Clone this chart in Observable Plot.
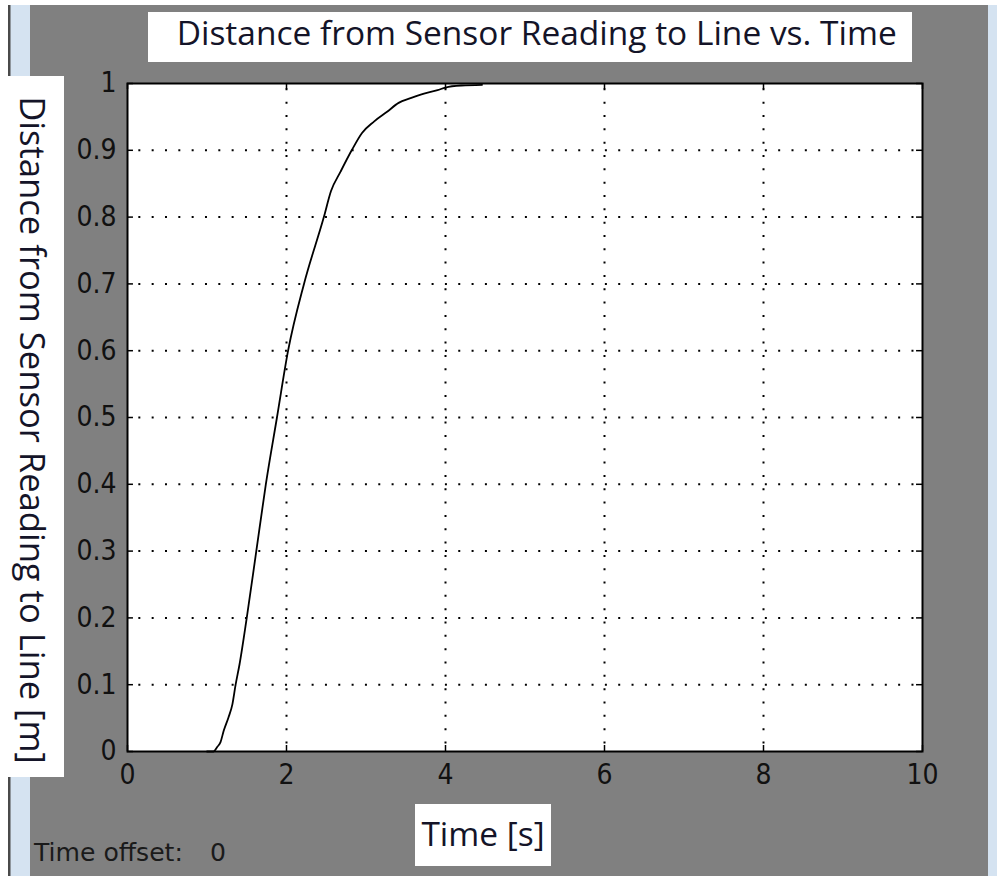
<!DOCTYPE html>
<html>
<head>
<meta charset="utf-8">
<script src="https://cdn.jsdelivr.net/npm/d3@7"></script>
<script src="https://cdn.jsdelivr.net/npm/@observablehq/plot@0.6"></script>
<style>
  html, body { margin: 0; padding: 0; background: #ffffff; }
  #chart { position: absolute; left: 0; top: 0; }
</style>
</head>
<body>
<div id="chart"></div>
<script>
// ---- data ----
const timeS = [1.0, 1.08, 1.13, 1.17, 1.21, 1.27, 1.32, 1.36, 1.41, 1.50, 1.62, 1.74, 1.88, 2.02, 2.22, 2.47, 2.56, 2.68, 2.82, 2.95, 3.10, 3.27, 3.41, 3.56, 3.73, 3.90, 4.00, 4.20, 4.46];
const distM = [0, 0, 0.007, 0.014, 0.031, 0.051, 0.071, 0.10, 0.131, 0.2, 0.3, 0.4, 0.5, 0.6, 0.7, 0.8, 0.839, 0.868, 0.9, 0.926, 0.943, 0.958, 0.971, 0.978, 0.985, 0.99, 0.994, 0.997, 0.998];
const xTicks = [0, 2, 4, 6, 8, 10];
const yTicks = [0, 0.1, 0.2, 0.3, 0.4, 0.5, 0.6, 0.7, 0.8, 0.9, 1];
const xGrid = [2, 4, 6, 8];
const yGrid = [0.1, 0.2, 0.3, 0.4, 0.5, 0.6, 0.7, 0.8, 0.9];
const titleText = "Distance from Sensor Reading to Line vs. Time";
const yLabelText = "Distance from Sensor Reading to Line [m]";
const xLabelText = "Time [s]";
const offsetLabel = "Time offset:";
const offsetValue = "0";

const data = timeS.map((t, i) => ({t, d: distM[i]}));
const tickFont = "'DejaVu Sans Condensed', 'Liberation Sans', Arial, sans-serif";
const dots = "2,11.33";

const svg = Plot.plot({
  width: 997,
  height: 876,
  marginLeft: 127,
  marginRight: 75,
  marginTop: 83,
  marginBottom: 125,
  x: {domain: [0, 10]},
  y: {domain: [0, 1]},
  style: {background: "transparent", overflow: "visible"},
  marks: [
    Plot.frame({fill: "white"}),
    Plot.gridX(xGrid, {stroke: "#000", strokeOpacity: 1, strokeWidth: 2, strokeDasharray: dots, strokeDashoffset: 8}),
    Plot.gridY(yGrid, {stroke: "#000", strokeOpacity: 1, strokeWidth: 2, strokeDasharray: dots, strokeDashoffset: 2}),
    // inward MATLAB-style ticks
    Plot.ruleX(xTicks, {x: d => d, y1: 0, y2: 0.009, stroke: "#000", strokeWidth: 1.5}),
    Plot.ruleX(xTicks, {x: d => d, y1: 0.991, y2: 1, stroke: "#000", strokeWidth: 1.5}),
    Plot.ruleY(yTicks, {y: d => d, x1: 0, x2: 0.075, stroke: "#000", strokeWidth: 1.5}),
    Plot.ruleY(yTicks, {y: d => d, x1: 9.925, x2: 10, stroke: "#000", strokeWidth: 1.5}),
    Plot.line(data, {x: "t", y: "d", stroke: "#000", strokeWidth: 1.8, curve: "monotone-x"}),
    Plot.frame({stroke: "#000", strokeWidth: 2}),
    Plot.axisX(xTicks, {tickSize: 0, tickPadding: 13, fontSize: 28, fontFamily: tickFont, fill: "#111", tickFormat: d => String(d), label: null}),
    Plot.axisY(yTicks, {tickSize: 0, tickPadding: 11, fontSize: 28, fontFamily: tickFont, fill: "#111", tickFormat: d => String(d), label: null})
  ]
});

document.getElementById("chart").appendChild(svg);

const s = d3.select(svg);
// background decorations (window chrome)
const bg = s.insert("g", ":first-child");
bg.append("rect").attr("x", 0).attr("y", 0).attr("width", 997).attr("height", 876).attr("fill", "#ffffff");
bg.append("rect").attr("x", 30).attr("y", 5).attr("width", 958).attr("height", 871).attr("fill", "#808080");
bg.append("rect").attr("x", 10).attr("y", 5).attr("width", 20).attr("height", 871).attr("fill", "#d5e3f1");
bg.append("rect").attr("x", 8).attr("y", 5).attr("width", 2.5).attr("height", 871).attr("fill", "#4a4a4a");
bg.append("rect").attr("x", 988).attr("y", 5).attr("width", 9).attr("height", 871).attr("fill", "#d5e3f1");

const labelFont = "'Open Sans', 'Noto Sans', sans-serif";
const fg = s.append("g");

function fit(node, target) {
  const w = node.getComputedTextLength();
  const fs = parseFloat(node.getAttribute("font-size"));
  node.setAttribute("font-size", (fs * target / w).toFixed(2));
}

// title box
fg.append("rect").attr("x", 148).attr("y", 12).attr("width", 764).attr("height", 50).attr("fill", "#fff");
const title = fg.append("text").attr("x", 536.7).attr("y", 45).attr("text-anchor", "middle")
  .attr("font-family", labelFont).attr("font-size", 30).attr("fill", "#141428").text(titleText);
fit(title.node(), 720);

// y label box
fg.append("rect").attr("x", 0).attr("y", 76).attr("width", 64).attr("height", 701).attr("fill", "#fff");
const yl = fg.append("text").attr("transform", "translate(33,430) rotate(90)").attr("text-anchor", "middle")
  .attr("dominant-baseline", "central")
  .attr("font-family", labelFont).attr("font-size", 30).attr("fill", "#141428").text(yLabelText);
fit(yl.node(), 668);

// x label box
fg.append("rect").attr("x", 415).attr("y", 804).attr("width", 136).attr("height", 62).attr("fill", "#fff");
fg.append("text").attr("x", 483).attr("y", 846).attr("text-anchor", "middle")
  .attr("font-family", labelFont).attr("font-size", title.attr("font-size")).attr("fill", "#141428").text(xLabelText);

// time offset text
const off = fg.append("text").attr("x", 34).attr("y", 861).attr("text-anchor", "start")
  .attr("font-family", "'DejaVu Sans', sans-serif").attr("font-size", 24).attr("fill", "#1a1a1a").text(offsetLabel);
fit(off.node(), 149);
fg.append("text").attr("x", 210).attr("y", 861).attr("text-anchor", "start")
  .attr("font-family", "'DejaVu Sans', sans-serif").attr("font-size", off.attr("font-size")).attr("fill", "#1a1a1a").text(offsetValue);
</script>
</body>
</html>
